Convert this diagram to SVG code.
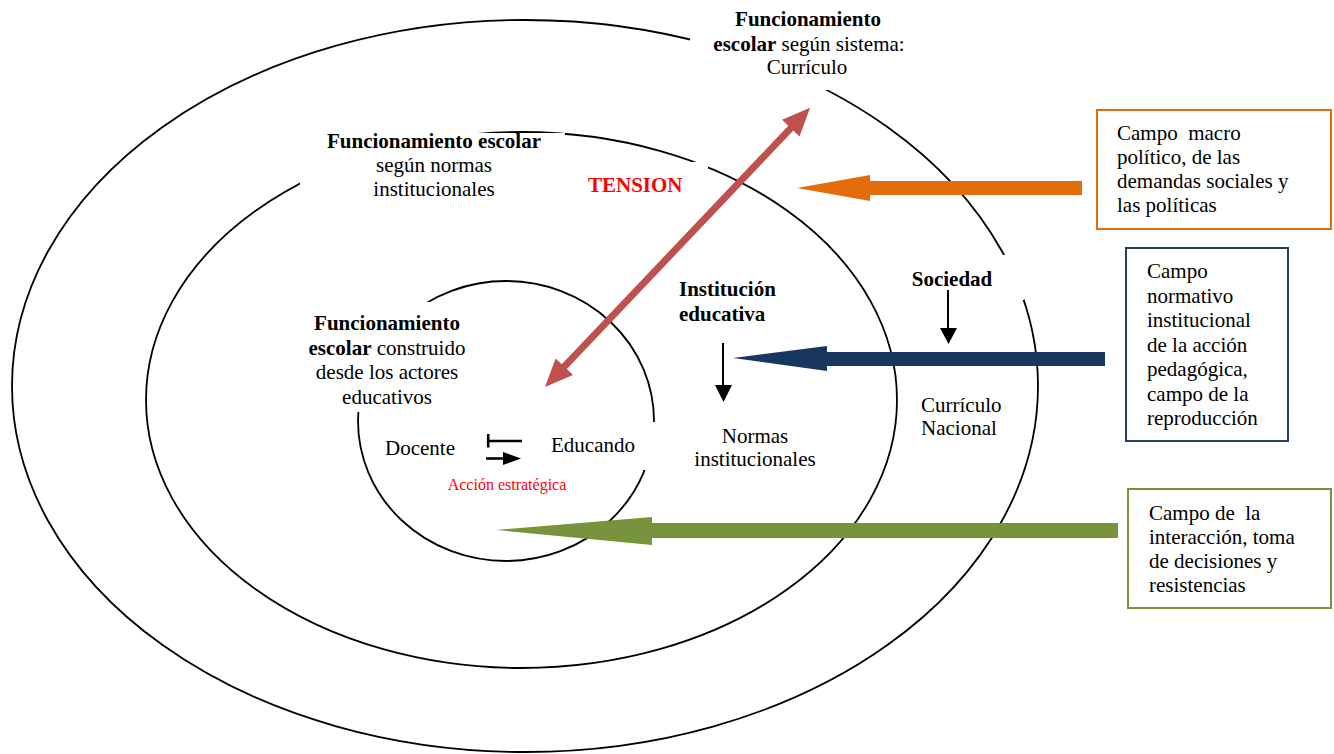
<svg xmlns="http://www.w3.org/2000/svg" width="1334" height="754" viewBox="0 0 1334 754">
  <style>
    .ring { fill: none; stroke: #000; stroke-width: 1.8; }
    .mask { fill: #fff; }
    .t { font-family: "Liberation Serif", "Times New Roman", serif; font-size: 21px; fill: #000; }
    .b { font-weight: bold; }
    .mid { text-anchor: middle; }
    .red { fill: #ff0000; }
    .small { font-size: 16px; }
    .box { fill: #fff; stroke-width: 2; }
    .pre { white-space: pre; }
  </style>

  <!-- concentric fields -->
  <g id="rings">
    <ellipse id="ring-sociedad" class="ring" cx="525" cy="386" rx="513" ry="366"/>
    <ellipse id="ring-institucion" class="ring" cx="521.5" cy="400" rx="375.5" ry="268"/>
    <ellipse id="ring-actores" class="ring" cx="506" cy="421" rx="148" ry="140"/>
  </g>

  <!-- text boxes sit on white and interrupt the rings -->
  <g id="label-backgrounds">
    <rect class="mask" x="690" y="0" width="230" height="90"/>
    <rect class="mask" x="905" y="255" width="119" height="45"/>
    <rect class="mask" x="300" y="133" width="265" height="75"/>
    <rect class="mask" x="580" y="162" width="128" height="42"/>
    <rect class="mask" x="300" y="302" width="170" height="110"/>
    <rect class="mask" x="545" y="422" width="111" height="48"/>
  </g>

  <g id="node-sistema">
    <text class="t mid b" x="808" y="26">Funcionamiento</text>
    <text class="t mid" x="809" y="51"><tspan class="b">escolar</tspan> según sistema:</text>
    <text class="t mid" x="807" y="74">Currículo</text>
  </g>

  <g id="node-normas-institucionales">
    <text class="t mid b" x="434" y="148">Funcionamiento escolar</text>
    <text class="t mid" x="434" y="172">según normas</text>
    <text class="t mid" x="434" y="196">institucionales</text>
  </g>

  <g id="node-tension">
    <text class="t b red" x="588" y="192">TENSION</text>
  </g>

  <g id="node-actores">
    <text class="t mid b" x="387" y="330">Funcionamiento</text>
    <text class="t mid" x="387" y="355"><tspan class="b">escolar</tspan> construido</text>
    <text class="t mid" x="387" y="379">desde los actores</text>
    <text class="t mid" x="387" y="404">educativos</text>
  </g>

  <g id="node-docente">
    <text class="t" x="385" y="455">Docente</text>
  </g>
  <g id="node-educando">
    <text class="t" x="551" y="452">Educando</text>
  </g>
  <g id="node-accion">
    <text class="t mid red small" x="507" y="490">Acción estratégica</text>
  </g>

  <g id="node-institucion">
    <text class="t b" x="679" y="296">Institución</text>
    <text class="t b" x="679" y="321">educativa</text>
  </g>

  <g id="node-normas">
    <text class="t mid" x="755" y="443">Normas</text>
    <text class="t mid" x="755" y="466">institucionales</text>
  </g>

  <g id="node-sociedad">
    <text class="t mid b" x="952" y="286">Sociedad</text>
  </g>

  <g id="node-curriculo">
    <text class="t" x="921" y="412">Currículo</text>
    <text class="t" x="921" y="435">Nacional</text>
  </g>

  <g id="node-campo-macro">
    <rect class="box" x="1097" y="110" width="234" height="119" stroke="#e46c0a"/>
    <text class="t pre" x="1117" y="140">Campo  macro</text>
    <text class="t" x="1117" y="164">político, de las</text>
    <text class="t" x="1117" y="188">demandas sociales y</text>
    <text class="t" x="1117" y="212">las políticas</text>
  </g>

  <g id="node-campo-normativo">
    <rect class="box" x="1126" y="248" width="162" height="193" stroke="#243f60"/>
    <text class="t" x="1147" y="278">Campo</text>
    <text class="t" x="1147" y="302.5">normativo</text>
    <text class="t" x="1147" y="327">institucional</text>
    <text class="t" x="1147" y="351.5">de la acción</text>
    <text class="t" x="1147" y="376">pedagógica,</text>
    <text class="t" x="1147" y="400.5">campo de la</text>
    <text class="t" x="1147" y="425">reproducción</text>
  </g>

  <g id="node-campo-interaccion">
    <rect class="box" x="1128" y="489" width="203" height="119" stroke="#77933c"/>
    <text class="t pre" x="1149" y="520">Campo de  la</text>
    <text class="t" x="1149" y="544">interacción, toma</text>
    <text class="t" x="1149" y="568">de decisiones y</text>
    <text class="t" x="1149" y="592">resistencias</text>
  </g>

  <g id="connectors">
    <!-- tension between system and actors (double headed) -->
    <polygon fill="#c0504d" transform="translate(545,387) rotate(-46.48)"
      points="0,0 28,-12 28,-3.5 357,-3.5 357,-12 385,0 357,12 357,3.5 28,3.5 28,12"/>
    <!-- macro-political field -->
    <polygon fill="#e46c0a" points="797,188 870,175 870,181 1082,181 1082,195 870,195 870,201"/>
    <!-- normative field -->
    <polygon fill="#17375e" points="733,358 827,346 827,352 1105,352 1105,366 827,366 827,371"/>
    <!-- interaction field -->
    <polygon fill="#77933c" points="496,530 652,517 652,523 1118,523 1118,538 652,538 652,545"/>
    <!-- Sociedad to Currículo Nacional -->
    <line x1="948" y1="290" x2="948" y2="330" stroke="#000" stroke-width="2"/>
    <polygon fill="#000" points="940,328 957,328 948.5,344"/>
    <!-- Institución to Normas -->
    <line x1="723" y1="343" x2="723" y2="387" stroke="#000" stroke-width="2"/>
    <polygon fill="#000" points="715,385 732,385 723.5,402"/>
    <!-- Docente / Educando exchange -->
    <line x1="487" y1="441" x2="522" y2="441" stroke="#000" stroke-width="2.6"/>
    <line x1="488.2" y1="434" x2="488.2" y2="447.5" stroke="#000" stroke-width="2.6"/>
    <line x1="486" y1="458.5" x2="505" y2="458.5" stroke="#000" stroke-width="2.6"/>
    <polygon fill="#000" points="503,452 521,458.5 503,465"/>
  </g>
</svg>
